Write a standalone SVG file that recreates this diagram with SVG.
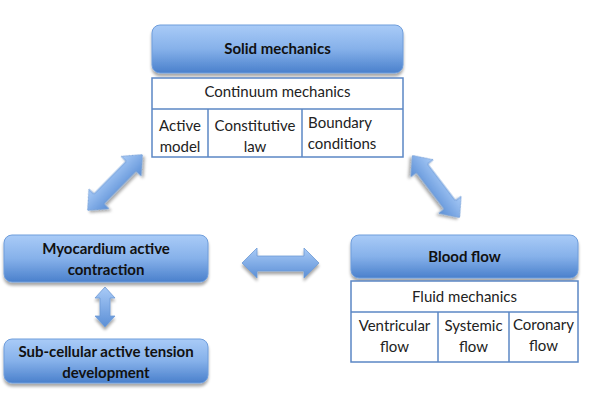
<svg xmlns="http://www.w3.org/2000/svg" width="600" height="400" viewBox="0 0 600 400">
<defs>
<linearGradient id="g" x1="0" y1="0" x2="0" y2="1">
<stop offset="0" stop-color="#a9cbf7"/>
<stop offset="0.5" stop-color="#86b1ea"/>
<stop offset="1" stop-color="#4a80cc"/>
</linearGradient>
<linearGradient id="ga" x1="0" y1="0" x2="0" y2="1">
<stop offset="0" stop-color="#a9cbf7"/>
<stop offset="1" stop-color="#5b8fd6"/>
</linearGradient>
<filter id="sh" x="-10%" y="-20%" width="120%" height="150%">
<feGaussianBlur in="SourceAlpha" stdDeviation="1.5"/>
<feOffset dx="0" dy="2.5" result="b"/>
<feComponentTransfer><feFuncA type="linear" slope="0.35"/></feComponentTransfer>
<feMerge><feMergeNode/><feMergeNode in="SourceGraphic"/></feMerge>
</filter>
<path id="dbl" d="M-39,0 L-23,-14 L-23,-7 L23,-7 L23,-14 L39,0 L23,14 L23,7 L-23,7 L-23,14 Z"/>
</defs>
<style>
.box{fill:url(#g);stroke:#6f9ddb;stroke-width:1;filter:url(#sh)}
.tbl{fill:#fff;stroke:#5b87c5;stroke-width:1.5}
.title{font-family:Lato,"Open Sans",sans-serif;font-weight:bold;font-size:15px;fill:#111;text-anchor:middle}
.t{font-family:Lato,"Open Sans",sans-serif;font-size:15px;fill:#222;text-anchor:middle}
.arr{fill:url(#ga);stroke:#6d9ad6;stroke-width:0.8;filter:url(#sh)}
</style>
<rect width="600" height="400" fill="#fff"/>

<g id="connectors">
<use href="#dbl" class="arr" transform="translate(115,182.5) rotate(-45.5)"/>
<use href="#dbl" class="arr" transform="translate(436,186.5) rotate(52.7)"/>
<path class="arr" d="M242,263 L257,248 L257,256 L304,256 L304,248 L319,263 L304,278 L304,271 L257,271 L257,278 Z"/>
<path class="arr" d="M105,287 L115,298 L110,298 L110,316 L115,316 L105,327 L95,316 L100,316 L100,298 L95,298 Z"/>
</g>

<g id="solid">
<rect class="box" x="152" y="25" width="251" height="48" rx="8"/>
<text class="title" x="277.5" y="54">Solid mechanics</text>
</g>
<g id="continuum">
<rect class="tbl" x="152" y="78" width="251" height="79"/>
<line class="tbl" x1="152" y1="109" x2="403" y2="109"/>
<line class="tbl" x1="208" y1="109" x2="208" y2="157"/>
<line class="tbl" x1="302" y1="109" x2="302" y2="157"/>
<text class="t" x="277.5" y="97">Continuum mechanics</text>
<text class="t" x="180" y="131">Active</text>
<text class="t" x="180" y="152">model</text>
<text class="t" x="255" y="131">Constitutive</text>
<text class="t" x="255" y="152">law</text>
<text class="t" x="340" y="128">Boundary</text>
<text class="t" x="342" y="149">conditions</text>
</g>

<g id="myocardium">
<rect class="box" x="4" y="235" width="204" height="47" rx="8"/>
<text class="title" x="106" y="254">Myocardium active</text>
<text class="title" x="106" y="275">contraction</text>
</g>

<g id="subcellular">
<rect class="box" x="4" y="339" width="204" height="44" rx="8"/>
<text class="title" x="106" y="357">Sub-cellular active tension</text>
<text class="title" x="106" y="378">development</text>
</g>

<g id="blood">
<rect class="box" x="351" y="235" width="227" height="43" rx="8"/>
<text class="title" x="464.5" y="262">Blood flow</text>
</g>
<g id="fluid">
<rect class="tbl" x="351" y="281" width="227" height="81"/>
<line class="tbl" x1="351" y1="312" x2="578" y2="312"/>
<line class="tbl" x1="438" y1="312" x2="438" y2="362"/>
<line class="tbl" x1="509" y1="312" x2="509" y2="362"/>
<text class="t" x="464.5" y="302">Fluid mechanics</text>
<text class="t" x="394.5" y="331">Ventricular</text>
<text class="t" x="394.5" y="352">flow</text>
<text class="t" x="473.5" y="331">Systemic</text>
<text class="t" x="473.5" y="352">flow</text>
<text class="t" x="543.5" y="330">Coronary</text>
<text class="t" x="543.5" y="351">flow</text>
</g>
</svg>
